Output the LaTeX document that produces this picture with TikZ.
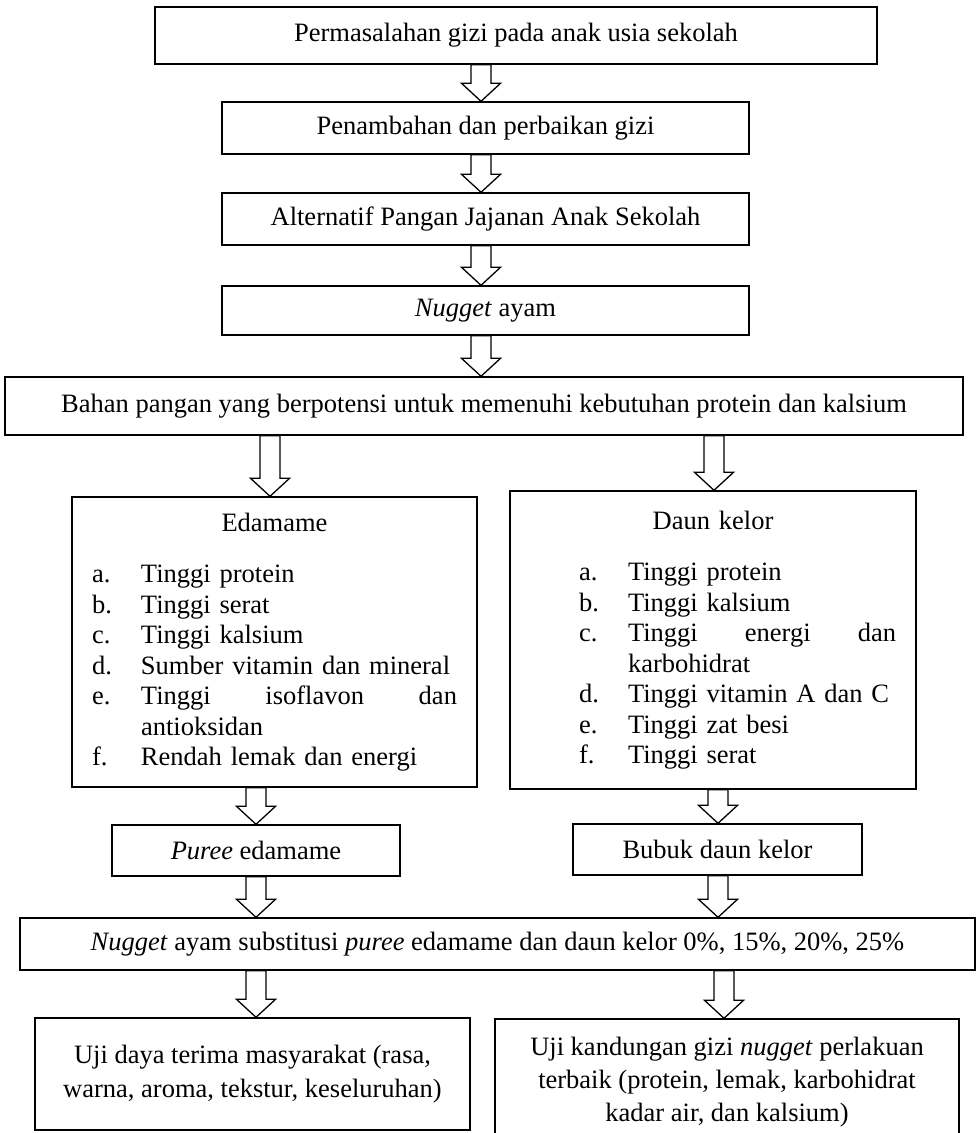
\documentclass[tikz,border=0pt]{standalone}
\usepackage{fontspec}
\setmainfont{Liberation Serif}
\usetikzlibrary{calc}

% list item with hanging label
\newcommand{\poin}[2]{\makebox[49pt][l]{#1}#2}
% hollow block arrow: from, to, column
\newcommand{\panah}[3]{%
  \draw[blok] ($(#1 -| #3)+(-10,0)$) -- ($(#2 -| #3)+(-10,-18)$)
    -- ($(#2 -| #3)+(-19.5,-18)$) -- (#2 -| #3)
    -- ($(#2 -| #3)+(19.5,-18)$) -- ($(#2 -| #3)+(10,-18)$)
    -- ($(#1 -| #3)+(10,0)$) -- cycle;}

\begin{document}
\begin{tikzpicture}[
  x=1pt, y=-1pt,
  every node/.style={font=\fontsize{26.5}{30.5}\selectfont},
  kotak/.style={draw, line width=1.4pt, inner sep=0pt, align=center},
  daftar/.style={kotak, align=left},
  blok/.style={draw, line width=1.3pt, fill=white, line join=miter}
]
\useasboundingbox (0,0) rectangle (980,1133);

\node[kotak, minimum width=722, minimum height=57] (b1) at (516,35.5) {Permasalahan gizi pada anak usia sekolah};
\node[kotak, minimum width=527, minimum height=52] (b2) at (485.5,128) {Penambahan dan perbaikan gizi};
\node[kotak, minimum width=527, minimum height=52] (b3) at (485.5,219) {Alternatif Pangan Jajanan Anak Sekolah};
\node[kotak, minimum width=527, minimum height=49] (b4) at (485.5,310.5) {\emph{Nugget} ayam};
\node[kotak, minimum width=958, minimum height=58] (b5) at (484,406) {Bahan pangan yang berpotensi untuk memenuhi kebutuhan protein dan kalsium};

\node[daftar, minimum width=405, minimum height=290, text width=365] (edamame) at (274.5,642) {%
  \makebox[365pt]{Edamame}\\[21pt]
  \poin{a.}{Tinggi protein}\\
  \poin{b.}{Tinggi serat}\\
  \poin{c.}{Tinggi kalsium}\\
  \poin{d.}{Sumber vitamin dan mineral}\\
  \poin{e.}{Tinggi\hfill isoflavon\hfill dan}\\
  \hspace*{49pt}antioksidan\\
  \poin{f.}{Rendah lemak dan energi}};
\node[daftar, minimum width=406, minimum height=298, text width=366] (daun) at (713,640) {%
  \makebox[366pt]{Daun kelor}\\[21pt]
  \hspace*{49pt}\poin{a.}{Tinggi protein}\\
  \hspace*{49pt}\poin{b.}{Tinggi kalsium}\\
  \hspace*{49pt}\poin{c.}{Tinggi\hfill energi\hfill dan}\\
  \hspace*{98pt}karbohidrat\\
  \hspace*{49pt}\poin{d.}{Tinggi vitamin A dan C}\\
  \hspace*{49pt}\poin{e.}{Tinggi zat besi}\\
  \hspace*{49pt}\poin{f.}{Tinggi serat}};

\node[kotak, minimum width=288, minimum height=51] (puree) at (256,850.5) {\emph{Puree} edamame};
\node[kotak, minimum width=289, minimum height=51] (bubuk) at (717.5,849.5) {Bubuk daun kelor};
\node[kotak, minimum width=955, minimum height=52] (nugsub) at (497.5,944) {\emph{Nugget} ayam substitusi \emph{puree} edamame dan daun kelor 0\%, 15\%, 20\%, 25\%};

\node[kotak, minimum width=435, minimum height=112] (uji1) at (252.5,1074) {Uji daya terima masyarakat (rasa,\\[3pt] warna, aroma, tekstur, keseluruhan)};
\node[kotak, minimum width=464, minimum height=126] (uji2) at (727,1082) {Uji kandungan gizi \emph{nugget} perlakuan\\[2.5pt] terbaik (protein, lemak, karbohidrat\\[2.5pt] kadar air, dan kalsium)};

% arrow columns
\coordinate (kol) at (481,0);
\coordinate (kiriA) at (270,0);
\coordinate (kananA) at (714,0);
\coordinate (kiriB) at (256,0);
\coordinate (kananB) at (718,0);
\coordinate (kananC) at (724,0);

\panah{b1.south}{b2.north}{kol}
\panah{b2.south}{b3.north}{kol}
\panah{b3.south}{b4.north}{kol}
\panah{b4.south}{b5.north}{kol}
\panah{b5.south}{edamame.north}{kiriA}
\panah{b5.south}{daun.north}{kananA}
\panah{edamame.south}{puree.north}{kiriB}
\panah{daun.south}{bubuk.north}{kananB}
\panah{puree.south}{nugsub.north}{kiriB}
\panah{bubuk.south}{nugsub.north}{kananB}
\panah{nugsub.south}{uji1.north}{kiriB}
\panah{nugsub.south}{uji2.north}{kananC}
\end{tikzpicture}
\end{document}
